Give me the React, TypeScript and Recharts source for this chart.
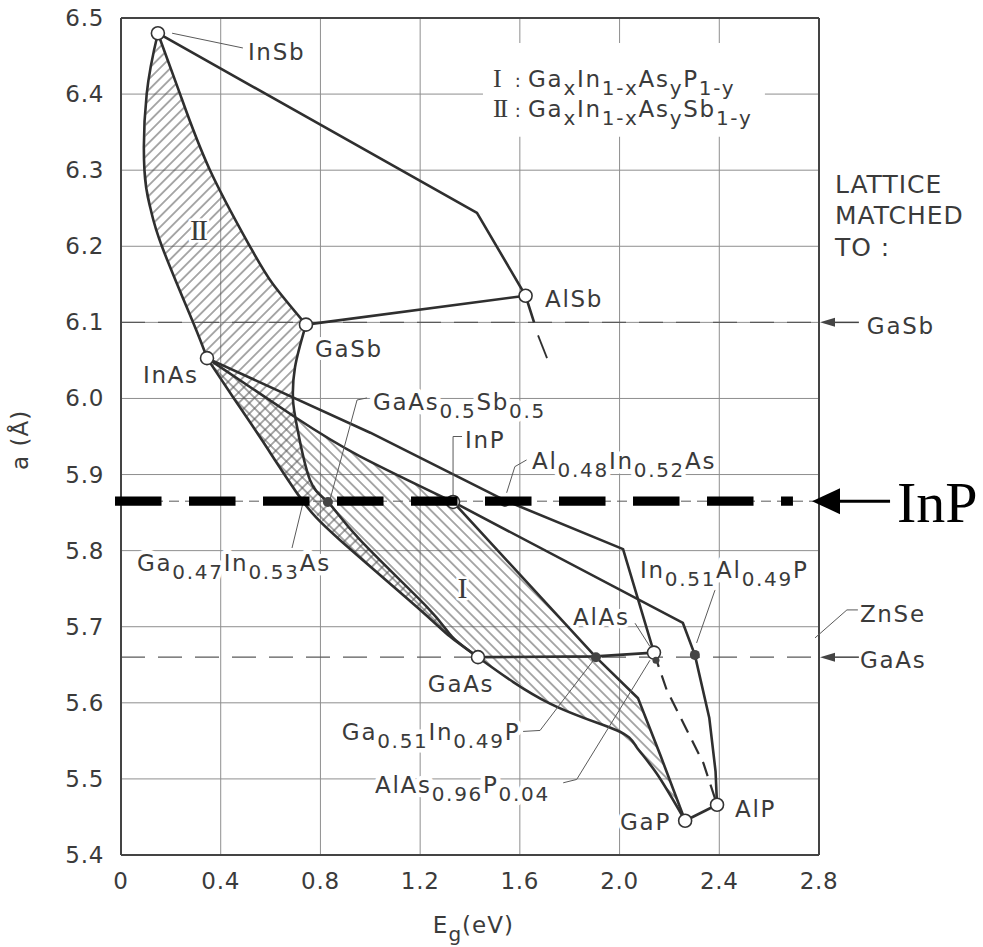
import React from "react";
import {
  ScatterChart,
  Scatter,
  XAxis,
  YAxis,
  CartesianGrid,
  ReferenceLine,
  ReferenceArea,
  ReferenceDot,
} from "recharts";

// Lattice constant vs band gap of the III-V binaries, with the GaInAsP (I) and
// GaInAsSb (II) quaternary regions hatched and the InP lattice match marked.

const W = 983;
const H = 947;
const SANS = "'DejaVu Sans', Verdana, sans-serif";
const SERIF = "'Liberation Serif', 'Times New Roman', serif";
const INK = "#3b3b3b";
const LINE = "#2f2f2f";
const GRID = "#8e8e8e";
const THIN = "#5a5a5a";

const X_TICKS = [0, 0.4, 0.8, 1.2, 1.6, 2.0, 2.4, 2.8];
const Y_TICKS = [5.4, 5.5, 5.6, 5.7, 5.8, 5.9, 6.0, 6.1, 6.2, 6.3, 6.4, 6.5];

// [Eg (eV), a (Å)]
const BINARIES = [
  [0.148, 6.48], // InSb
  [0.742, 6.097], // GaSb
  [1.623, 6.135], // AlSb
  [0.345, 6.053], // InAs
  [1.332, 5.864], // InP
  [1.432, 5.66], // GaAs
  [2.138, 5.666], // AlAs
  [2.263, 5.445], // GaP
  [2.391, 5.466], // AlP
];
// GaAs0.5Sb0.5, Al0.48In0.52As, Ga0.51In0.49P, In0.51Al0.49P
const MATCHED = [
  [0.83, 5.864],
  [1.54, 5.864],
  [1.905, 5.66],
  [2.302, 5.663],
];
const ALASP = [[2.146, 5.656]];

const INP_A = 5.865;
const GASB_A = 6.1;
const GAAS_A = 5.66;

// boundary curves between binaries
const inSbInAs = [[0.148, 6.48], [0.103, 6.4], [0.094, 6.3], [0.118, 6.25], [0.164, 6.2], [0.289, 6.1], [0.345, 6.053]];
const inSbGaSb = [[0.148, 6.48], [0.237, 6.4], [0.357, 6.3], [0.517, 6.2], [0.61, 6.15], [0.742, 6.097]];
const inSbAlSb = [[0.148, 6.48], [1.428, 6.244], [1.623, 6.135], [1.657, 6.1]];
const alSbTail = [[1.673, 6.083], [1.709, 6.053]];
const gaSbAlSb = [[0.742, 6.097], [1.623, 6.135]];
const gaSbGaAs = [[0.742, 6.097], [0.698, 6.041], [0.69, 5.998], [0.706, 5.963], [0.758, 5.893], [0.83, 5.864], [0.959, 5.814], [1.227, 5.726], [1.328, 5.687], [1.432, 5.66]];
const inAsGaAs = [[0.345, 6.053], [0.453, 6.0], [0.566, 5.945], [0.718, 5.87], [0.878, 5.814], [1.187, 5.726], [1.32, 5.687], [1.432, 5.66]];
const inAsInP = [[0.345, 6.053], [0.705, 5.974], [0.959, 5.924], [1.332, 5.864]];
const inAsAlAs = [[0.345, 6.053], [1.0, 5.955], [1.54, 5.866], [2.014, 5.802], [2.138, 5.666]];
const inPAlP = [[1.332, 5.864], [2.254, 5.705], [2.302, 5.663], [2.36, 5.58], [2.385, 5.51], [2.391, 5.466]];
const inPGaP = [[1.332, 5.864], [1.905, 5.66], [2.074, 5.606], [2.165, 5.53], [2.263, 5.445]];
const gaAsGaP = [[1.432, 5.66], [1.721, 5.599], [1.988, 5.564], [2.068, 5.542], [2.149, 5.507], [2.263, 5.445]];
const gaAsAlAs = [[1.432, 5.66], [1.905, 5.661], [2.138, 5.666]];
const alAsAlP = [[2.138, 5.666], [2.189, 5.617], [2.336, 5.521], [2.391, 5.466]];
const gaPAlP = [[2.263, 5.445], [2.391, 5.466]];

// leader lines from labels to points
const LEADERS = [
  [[0.205, 6.48], [0.489, 6.4606]],
  [[1.332, 5.871], [1.332, 5.95], [1.368, 5.95]],
  [[0.838, 5.8666], [0.947, 5.998], [0.987, 6.0007]],
  [[0.73, 5.8627], [0.686, 5.8035]],
  [[1.547, 5.876], [1.58, 5.9104], [1.627, 5.9192]],
  [[2.309, 5.6787], [2.383, 5.7484]],
  [[2.062, 5.7046], [2.122, 5.6739]],
  [[1.905, 5.66], [1.681, 5.5637], [1.613, 5.5624]],
  [[2.122, 5.656], [1.828, 5.4993], [1.774, 5.4949]],
];

const rev = (a: number[][]) => [...a].reverse();
const REGION_II = [...inSbGaSb, ...gaSbGaAs.slice(1), ...rev(inAsGaAs).slice(1), ...rev(inSbInAs).slice(1, -1)];
const REGION_I = [...inAsInP, ...inPGaP.slice(1), ...rev(gaAsGaP).slice(1), ...rev(inAsGaAs).slice(1, -1)];

const pts = (a: number[][]) => a.map(([x, y]) => ({ x, y }));
const blank = () => <g />;

function formula(f: string, size: number, sub: number, drop: number) {
  const parts = f.split(/_\{([^}]*)\}/);
  let level = 0;
  const out: React.ReactNode[] = [];
  parts.forEach((t, i) => {
    if (!t) return;
    const target = i % 2 === 1 ? drop : 0;
    out.push(
      <tspan key={i} dy={target - level} fontSize={i % 2 === 1 ? sub : size}>
        {t}
      </tspan>
    );
    level = target;
  });
  return out;
}

type SayOpts = { size?: number; sub?: number; drop?: number; anchor?: string; halo?: number; family?: string; fill?: string; spacing?: number; rotate?: number };

const say = (f: string, o: SayOpts = {}) => (cx: number, cy: number) => {
  const size = o.size ?? 23;
  const halo = o.halo ?? 7;
  return (
    <text
      x={cx}
      y={cy}
      fontFamily={o.family ?? SANS}
      fontSize={size}
      fill={o.fill ?? INK}
      textAnchor={o.anchor ?? "start"}
      letterSpacing={o.spacing ?? 1.7}
      stroke={halo ? "#fff" : "none"}
      strokeWidth={halo}
      strokeLinejoin="round"
      paintOrder="stroke"
      transform={o.rotate ? `rotate(${o.rotate} ${cx} ${cy})` : undefined}
      dominantBaseline={o.rotate ? "central" : undefined}
    >
      {formula(f, size, o.sub ?? 20, o.drop ?? 8)}
    </text>
  );
};

const tag = (key: string, x: number, y: number, draw: (cx: number, cy: number) => React.ReactElement) => (
  <ReferenceDot key={key} x={x} y={y} r={0} ifOverflow="visible" shape={(p: any) => draw(p.cx, p.cy)} />
);

const arrowHead = (len: number, half: number, color: string) => (cx: number, cy: number) => (
  <polygon points={`${cx},${cy} ${cx + len},${cy - half} ${cx + len},${cy + half}`} fill={color} />
);

const trace = (key: string, data: number[][], o: { width?: number; color?: string; dash?: string; smooth?: boolean } = {}) => (
  <Scatter
    key={key}
    data={pts(data)}
    isAnimationActive={false}
    shape={blank}
    legendType="none"
    line={{
      stroke: o.color ?? LINE,
      strokeWidth: o.width ?? 2.6,
      strokeDasharray: o.dash,
      strokeLinejoin: "round",
    }}
    lineJointType={o.smooth ? "natural" : "linear"}
  />
);

const hatch = (key: string, data: number[][], id: string) => (
  <Scatter
    key={key}
    data={pts(data)}
    isAnimationActive={false}
    shape={blank}
    legendType="none"
    line={{ fill: `url(#${id})`, stroke: "none" }}
    lineJointType="linearClosed"
  />
);

const xTick = (p: any) => (
  <text x={p.x} y={p.y + 34} textAnchor="middle" fontFamily={SANS} fontSize={23} fill={INK} letterSpacing={0.7}>
    {p.payload.value === 0 ? "0" : Number(p.payload.value).toFixed(1)}
  </text>
);
const yTick = (p: any) => (
  <text x={p.x - 17} y={p.y + 8} textAnchor="end" fontFamily={SANS} fontSize={23} fill={INK} letterSpacing={0.7}>
    {Number(p.payload.value).toFixed(1)}
  </text>
);

export default function App() {
  return (
    <div style={{ position: "absolute", left: 0, top: 0, width: W, height: H, background: "#fff" }}>
      <svg width={0} height={0} style={{ position: "absolute" }}>
        <defs>
          <pattern id="hatchII" patternUnits="userSpaceOnUse" width={7.5} height={7.5} patternTransform="rotate(45)">
            <line x1={3.75} y1={0} x2={3.75} y2={7.5} stroke="#555" strokeWidth={1} />
          </pattern>
          <pattern id="hatchI" patternUnits="userSpaceOnUse" width={7.5} height={7.5} patternTransform="rotate(-45)">
            <line x1={3.75} y1={0} x2={3.75} y2={7.5} stroke="#555" strokeWidth={1} />
          </pattern>
        </defs>
      </svg>
      <ScatterChart width={W} height={H} margin={{ top: 18, right: 164, bottom: 62, left: 61 }}>
        <CartesianGrid stroke={GRID} strokeWidth={1} />
        <XAxis
          type="number"
          dataKey="x"
          domain={[0, 2.8]}
          ticks={X_TICKS}
          tick={xTick}
          tickLine={false}
          tickSize={0}
          tickMargin={0}
          height={30}
          axisLine={{ stroke: "#444", strokeWidth: 2 }}
        />
        <YAxis
          type="number"
          dataKey="y"
          domain={[5.4, 6.5]}
          ticks={Y_TICKS}
          tick={yTick}
          tickLine={false}
          tickSize={0}
          tickMargin={0}
          width={60}
          axisLine={{ stroke: "#444", strokeWidth: 2 }}
        />
        <ReferenceArea x1={1.452} x2={2.583} y1={6.344} y2={6.467} fill="#fff" fillOpacity={1} stroke="none" />
        <ReferenceLine x={2.8} stroke="#444" strokeWidth={2} />
        <ReferenceLine y={6.5} stroke="#444" strokeWidth={2} />
        <ReferenceLine y={GASB_A} stroke={THIN} strokeWidth={1.2} strokeDasharray="24 13" />
        <ReferenceLine y={GAAS_A} stroke={THIN} strokeWidth={1.2} strokeDasharray="24 13" />
        <ReferenceLine y={INP_A} stroke={THIN} strokeWidth={1} strokeDasharray="10 6" />

        {hatch("hII", REGION_II, "hatchII")}
        {hatch("hI", REGION_I, "hatchI")}

        {trace("c1", inSbInAs, { smooth: true })}
        {trace("c2", inSbGaSb, { smooth: true })}
        {trace("c3", inSbAlSb)}
        {trace("c3b", alSbTail, { width: 1.8 })}
        {trace("c4", gaSbAlSb)}
        {trace("c5", gaSbGaAs, { smooth: true })}
        {trace("c6", inAsGaAs, { smooth: true })}
        {trace("c7", inAsInP, { smooth: true })}
        {trace("c8", inAsAlAs)}
        {trace("c9", inPAlP)}
        {trace("c10", inPGaP)}
        {trace("c11", gaAsGaP, { smooth: true })}
        {trace("c12", gaAsAlAs)}
        {trace("c13", alAsAlP, { dash: "15 9", width: 2.2 })}
        {trace("c14", gaPAlP)}
        {LEADERS.map((l, i) => trace(`ld${i}`, l, { width: 1, color: THIN }))}

        <Scatter
          data={pts(BINARIES)}
          isAnimationActive={false}
          legendType="none"
          shape={(p: any) => <circle cx={p.cx} cy={p.cy} r={6.5} fill="#fff" stroke="#333" strokeWidth={1.6} />}
        />
        <Scatter
          data={pts(MATCHED)}
          isAnimationActive={false}
          legendType="none"
          shape={(p: any) => <circle cx={p.cx} cy={p.cy} r={5} fill="#444" />}
        />
        <Scatter
          data={pts(ALASP)}
          isAnimationActive={false}
          legendType="none"
          shape={(p: any) => <circle cx={p.cx} cy={p.cy} r={3.5} fill="#444" />}
        />

        <ReferenceLine
          segment={[{ x: -0.024, y: INP_A }, { x: 2.6955, y: INP_A }]}
          stroke="#000"
          strokeWidth={9.3}
          strokeDasharray="46.5 27.5"
          ifOverflow="visible"
          zIndex={700}
        />

        {/* right-hand lattice match markers */}
        <ReferenceLine segment={[{ x: 2.86, y: GASB_A }, { x: 2.96, y: GASB_A }]} stroke="#444" strokeWidth={1.5} ifOverflow="visible" />
        <ReferenceLine segment={[{ x: 2.86, y: GAAS_A }, { x: 2.96, y: GAAS_A }]} stroke="#444" strokeWidth={1.5} ifOverflow="visible" />
        <ReferenceLine segment={[{ x: 2.784, y: 5.6853 }, { x: 2.912, y: 5.7221 }]} stroke={THIN} strokeWidth={1} ifOverflow="visible" />
        <ReferenceLine segment={[{ x: 2.912, y: 5.7221 }, { x: 2.956, y: 5.7221 }]} stroke={THIN} strokeWidth={1} ifOverflow="visible" />
        <ReferenceLine segment={[{ x: 2.884, y: INP_A }, { x: 3.085, y: INP_A }]} stroke="#000" strokeWidth={3} ifOverflow="visible" />
        {tag("aGaSb", 2.804, GASB_A, arrowHead(15, 4.5, "#444"))}
        {tag("aGaAs", 2.804, GAAS_A, arrowHead(15, 4.5, "#444"))}
        {tag("aInP", 2.772, INP_A, arrowHead(28, 13, "#000"))}

        {tag("tInSb", 0.509, 6.4448, say("InSb"))}
        {tag("tGaSb", 0.778, 6.0545, say("GaSb"))}
        {tag("tAlSb", 1.701, 6.1202, say("AlSb"))}
        {tag("tInAs", 0.088, 6.0204, say("InAs"))}
        {tag("tGaAs", 1.231, 5.6143, say("GaAs"))}
        {tag("tAlAs", 1.813, 5.7024, say("AlAs"))}
        {tag("tGaP", 2.002, 5.433, say("GaP"))}
        {tag("tAlP", 2.463, 5.45, say("AlP"))}
        {tag("tInP", 1.38, 5.935, say("InP"))}
        {tag("tGaAsSb", 1.011, 5.9849, say("GaAs_{0.5}Sb_{0.5}", { halo: 9 }))}
        {tag("tAlInAs", 1.649, 5.9074, say("Al_{0.48}In_{0.52}As", { halo: 9 }))}
        {tag("tGaInAs", 0.064, 5.7733, say("Ga_{0.47}In_{0.53}As", { halo: 9 }))}
        {tag("tInAlP", 2.082, 5.7641, say("In_{0.51}Al_{0.49}P", { halo: 9 }))}
        {tag("tGaInP", 0.886, 5.5512, say("Ga_{0.51}In_{0.49}P", { halo: 9 }))}
        {tag("tAlAsP", 1.019, 5.4816, say("AlAs_{0.96}P_{0.04}", { halo: 9 }))}

        {tag("rII", 0.309, 6.2083, say("II", { family: SERIF, size: 30, anchor: "middle", spacing: -2, halo: 5 }))}
        {tag("rI", 1.37, 5.7378, say("I", { family: SERIF, size: 30, anchor: "middle", spacing: 0, halo: 5 }))}

        {tag("k1n", 1.492, 6.409, say("I", { family: SERIF, size: 26, spacing: 0, halo: 0 }))}
        {tag("k1c", 1.58, 6.409, say(":", { size: 18, halo: 0 }))}
        {tag("k1f", 1.633, 6.409, say("Ga_{x}In_{1-x}As_{y}P_{1-y}", { halo: 0 }))}
        {tag("k2n", 1.492, 6.37, say("II", { family: SERIF, size: 26, spacing: -2, halo: 0 }))}
        {tag("k2c", 1.58, 6.37, say(":", { size: 18, halo: 0 }))}
        {tag("k2f", 1.633, 6.37, say("Ga_{x}In_{1-x}As_{y}Sb_{1-y}", { halo: 0 }))}

        {tag("m1", 2.864, 6.27, say("LATTICE", { size: 25, spacing: 1, halo: 0 }))}
        {tag("m2", 2.864, 6.2293, say("MATCHED", { size: 25, spacing: 1, halo: 0 }))}
        {tag("m3", 2.864, 6.1873, say("TO :", { size: 25, spacing: 1, halo: 0 }))}
        {tag("mGaSb", 2.992, 6.0848, say("GaSb", { halo: 0 }))}
        {tag("mZnSe", 2.964, 5.7063, say("ZnSe", { halo: 0 }))}
        {tag("mGaAs", 2.964, 5.6459, say("GaAs", { halo: 0 }))}
        {tag("mInP", 3.113, 5.8377, say("InP", { family: SERIF, size: 58, fill: "#000", spacing: 0, halo: 0 }))}

        {tag("yl", -0.405, 5.9455, say("a (Å)", { anchor: "middle", rotate: -90, spacing: 1, halo: 0 }))}
        {tag("xl", 1.251, 5.2975, say("E_{g}(eV)", { spacing: 1, halo: 0 }))}
      </ScatterChart>
    </div>
  );
}
